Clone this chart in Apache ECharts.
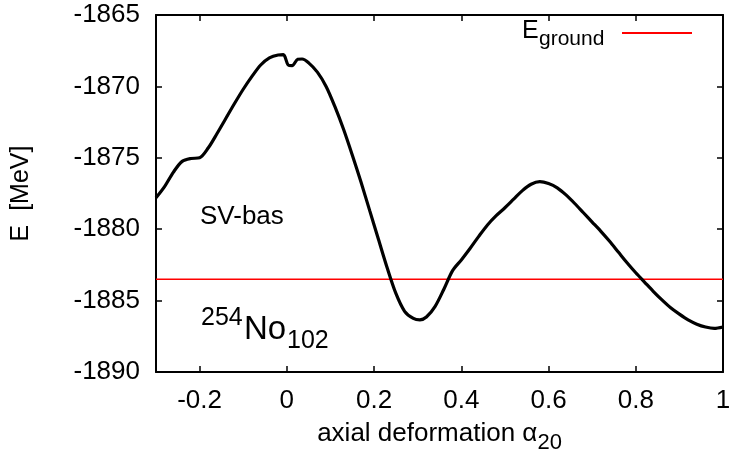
<!DOCTYPE html>
<html><head><meta charset="utf-8">
<script src="https://cdn.jsdelivr.net/npm/echarts@6/dist/echarts.min.js"></script>
<style>html,body{margin:0;padding:0;background:#fff}#c{width:732px;height:453px}</style>
</head><body><div id="c"></div>
<script>
// axial deformation alpha_20
const alpha = [-0.30,-0.28,-0.26,-0.24,-0.22,-0.20,-0.18,-0.16,-0.14,-0.12,-0.10,-0.08,-0.06,-0.04,-0.02,-0.008,0.003,0.012,0.025,0.035,0.05,0.07,0.09,0.11,0.13,0.15,0.17,0.19,0.21,0.23,0.25,0.27,0.29,0.305,0.32,0.34,0.36,0.38,0.40,0.42,0.44,0.46,0.48,0.50,0.52,0.54,0.56,0.58,0.60,0.62,0.64,0.66,0.68,0.70,0.72,0.74,0.76,0.78,0.80,0.82,0.84,0.86,0.88,0.90,0.92,0.94,0.96,0.98,1.00];
// energy E [MeV]
const energy = [-1877.8,-1877.0,-1876.0,-1875.25,-1875.05,-1875.0,-1874.3,-1873.3,-1872.25,-1871.2,-1870.2,-1869.3,-1868.5,-1868.0,-1867.8,-1867.78,-1868.5,-1868.55,-1868.1,-1868.08,-1868.35,-1869.0,-1870.0,-1871.4,-1873.0,-1874.8,-1876.7,-1878.7,-1880.7,-1882.7,-1884.5,-1885.75,-1886.25,-1886.35,-1886.15,-1885.4,-1884.2,-1882.9,-1882.15,-1881.35,-1880.5,-1879.7,-1879.05,-1878.5,-1877.9,-1877.3,-1876.85,-1876.67,-1876.8,-1877.1,-1877.6,-1878.2,-1878.85,-1879.5,-1880.15,-1880.85,-1881.6,-1882.35,-1883.05,-1883.7,-1884.35,-1884.95,-1885.5,-1885.95,-1886.35,-1886.65,-1886.85,-1886.95,-1886.85];
// ground state energy line
const groundAlpha = [-0.3, 1.0];
const groundEnergy = [-1883.5, -1883.5];
// tick labels
const xTicks = [-0.2, 0, 0.2, 0.4, 0.6, 0.8, 1];
const yTicks = [-1890, -1885, -1880, -1875, -1870, -1865];

const FONT = "'Liberation Sans', Arial, sans-serif";
const chart = echarts.init(document.getElementById('c'), null, {renderer: 'canvas'});
const curve = alpha.map((a, i) => [a, energy[i]]);
const ground = groundAlpha.map((a, i) => [a, groundEnergy[i]]);
const axisLine = {show: true, onZero: false, lineStyle: {color: '#000', width: 2}};
const xFmt = v => String(Math.round(v * 10) / 10);
const yFmt = v => String(Math.round(v));

chart.setOption({
  animation: false,
  backgroundColor: '#fff',
  grid: {left: 156, right: 9, top: 15, bottom: 81, containLabel: false, outerBoundsMode: 'none'},
  legend: {
    data: [{name: 'E_ground', icon: 'rect'}],
    left: 622, top: 32, padding: 0, itemWidth: 70, itemHeight: 2,
    formatter: () => '',
    textStyle: {fontSize: 2, lineHeight: 2}
  },
  xAxis: [{
    type: 'value', min: -0.3, max: 1, position: 'bottom',
    axisLine: axisLine,
    axisTick: {show: true, inside: true, length: 6, customValues: xTicks, lineStyle: {color: '#000', width: 1.5}},
    axisLabel: {show: true, customValues: xTicks, formatter: xFmt, margin: 16, color: '#000', fontSize: 26, fontFamily: FONT},
    splitLine: {show: false},
    name: 'axial deformation {a|α}{s|20}',
    nameLocation: 'middle', nameGap: 42,
    nameTextStyle: {color: '#000', fontSize: 26, fontFamily: FONT,
      rich: {a: {fontSize: 26, fontFamily: FONT, color: '#000'}, s: {fontSize: 22, fontFamily: FONT, color: '#000', padding: [18, 0, 0, 0]}}}
  }, {
    type: 'value', min: -0.3, max: 1, position: 'top',
    axisLine: axisLine,
    axisTick: {show: true, inside: true, length: 6, customValues: xTicks, lineStyle: {color: '#000', width: 1.5}},
    axisLabel: {show: false}, splitLine: {show: false}
  }],
  yAxis: [{
    type: 'value', min: yTicks[0], max: yTicks[yTicks.length - 1], interval: 5, position: 'left',
    axisLine: axisLine,
    axisTick: {show: true, inside: true, length: 6, lineStyle: {color: '#000', width: 1.5}},
    axisLabel: {show: true, margin: 16, formatter: yFmt, color: '#000', fontSize: 26, fontFamily: FONT},
    splitLine: {show: false},
    name: 'E  [MeV]', nameLocation: 'middle', nameGap: 122, nameRotate: 90,
    nameTextStyle: {color: '#000', fontSize: 25, fontFamily: FONT}
  }, {
    type: 'value', min: yTicks[0], max: yTicks[yTicks.length - 1], interval: 5, position: 'right',
    axisLine: axisLine,
    axisTick: {show: true, inside: true, length: 6, lineStyle: {color: '#000', width: 1.5}},
    axisLabel: {show: false}, splitLine: {show: false}
  }],
  series: [{
    name: 'SV-bas', type: 'line', data: curve, smooth: 0.3, showSymbol: false, symbol: 'none',
    lineStyle: {color: '#000', width: 3.2}, z: 3
  }, {
    name: 'E_ground', type: 'line', data: ground, showSymbol: false, symbol: 'none',
    itemStyle: {color: '#ff0000'},
    lineStyle: {color: '#ff0000', width: 1.6}, z: 2
  }],
  graphic: [
    {type: 'text', x: 522, y: 31.5, style: {text: 'E', fontSize: 25, fontFamily: FONT, fill: '#000', verticalAlign: 'middle'}},
    {type: 'text', x: 539, y: 39, style: {text: 'ground', fontSize: 21, fontFamily: FONT, fill: '#000', verticalAlign: 'middle'}},
    {type: 'text', x: 200, y: 217, style: {text: 'SV-bas', fontSize: 26, fontFamily: FONT, fill: '#000', verticalAlign: 'middle'}},
    {type: 'text', x: 201, y: 318, style: {text: '254', fontSize: 25, fontFamily: FONT, fill: '#000', verticalAlign: 'middle'}},
    {type: 'text', x: 244, y: 330, style: {text: 'No', fontSize: 33, fontFamily: FONT, fill: '#000', verticalAlign: 'middle'}},
    {type: 'text', x: 287, y: 341, style: {text: '102', fontSize: 25, fontFamily: FONT, fill: '#000', verticalAlign: 'middle'}}
  ]
});
</script>
</body></html>
